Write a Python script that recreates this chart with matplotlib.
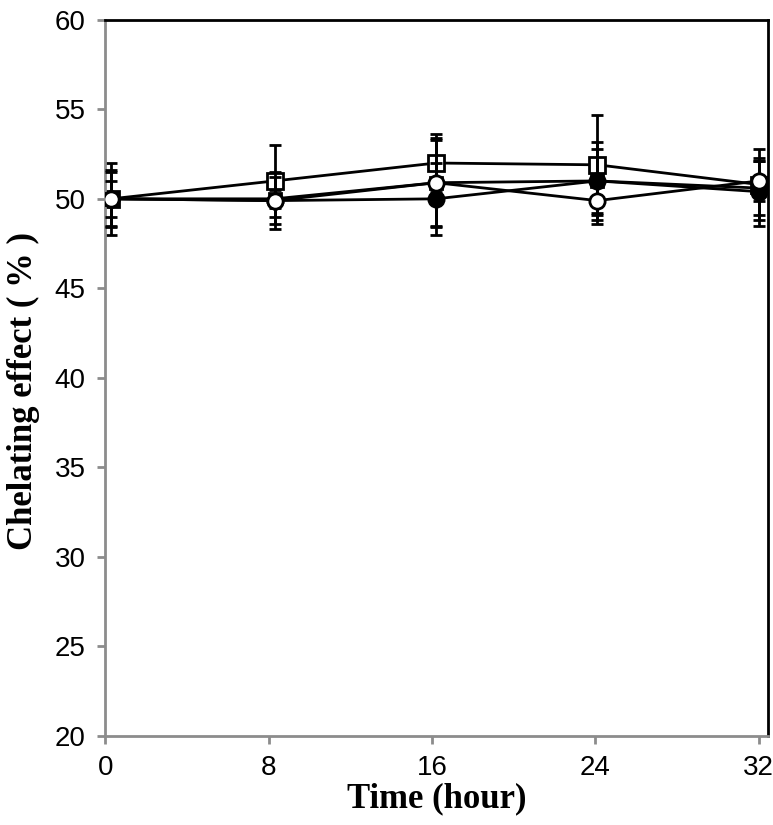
import numpy as np
import matplotlib.pyplot as plt

# =============================
# DATA
# =============================

time_h = [0.3, 8.3, 16.2, 24.1, 32.0]

sq_open = [50.0, 51.0, 52.0, 51.9, 50.8]
sq_open_err = [2.0, 2.0, 1.6, 2.8, 2.0]

circ_open = [50.0, 49.9, 50.9, 49.9, 51.0]
circ_open_err = [1.6, 1.6, 2.5, 1.3, 1.1]

circ_fill = [50.0, 49.9, 50.0, 51.0, 50.4]
circ_fill_err = [1.5, 1.3, 2.0, 2.2, 1.9]

sq_fill = [50.0, 50.0, 50.9, 51.0, 50.6]
sq_fill_err = [1.0, 0.5, 2.4, 1.8, 1.5]

x_ticks = [0, 8, 16, 24, 32]
y_ticks = [20, 25, 30, 35, 40, 45, 50, 55, 60]

# =============================
# FIGURE
# =============================

fig = plt.figure(figsize=(7.73, 8.25), dpi=100)
ax = fig.add_axes([0.136, 0.108, 0.8575, 0.868])

common = dict(color="black", lw=2, capsize=4.5, capthick=2, elinewidth=2,
              markeredgewidth=2, markeredgecolor="black")

ax.errorbar(time_h, sq_open, yerr=sq_open_err, fmt="-s", markersize=11,
            markerfacecolor="white", zorder=2, **common)
ax.errorbar(time_h, circ_fill, yerr=circ_fill_err, fmt="-o", markersize=11,
            markerfacecolor="black", zorder=3, **common)
ax.errorbar(time_h, sq_fill, yerr=sq_fill_err, fmt="-s", markersize=9,
            markerfacecolor="black", zorder=4, **common)
ax.errorbar(time_h, circ_open, yerr=circ_open_err, fmt="-o", markersize=11,
            markerfacecolor="white", zorder=5, **common)

ax.set_xlim(0, 32.45)
ax.set_ylim(20, 60)
ax.set_xticks(x_ticks)
ax.set_yticks(y_ticks)

for side in ["left", "bottom"]:
    ax.spines[side].set_color("#8c8c8c")
    ax.spines[side].set_linewidth(2)
for side in ["top", "right"]:
    ax.spines[side].set_color("black")
    ax.spines[side].set_linewidth(2)

ax.tick_params(axis="both", direction="out", length=6, width=2,
               color="#8c8c8c", labelsize=20)
ax.tick_params(axis="x", pad=8)
ax.tick_params(axis="y", pad=8)
for lab in ax.get_xticklabels() + ax.get_yticklabels():
    lab.set_fontfamily("Liberation Sans")

ax.set_xlabel("Time (hour)", fontsize=25, fontweight="bold",
              fontfamily="Liberation Serif")
ax.xaxis.set_label_coords(0.5, -0.065)
ax.set_ylabel("Chelating effect ( % )", fontsize=25, fontweight="bold",
              fontfamily="Liberation Serif")
ax.yaxis.set_label_coords(-0.098, 0.482)

fig.savefig("out.png", dpi=100)
